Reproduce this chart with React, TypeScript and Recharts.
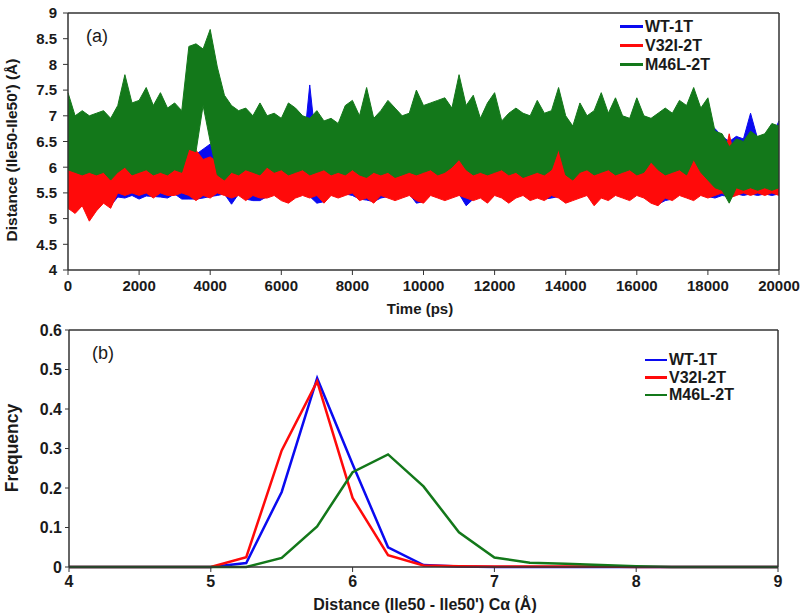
import React from 'react';
import { ComposedChart, LineChart, Area, Line, XAxis, YAxis, ReferenceLine } from 'recharts';

const FONT = '"Liberation Sans", Arial, Helvetica, sans-serif';
const INK = '#1a1a1a';
const AXIS = '#333333';
const BLUE = '#0a0af0';
const RED = '#ff0a0a';
const GREEN = '#13781a';

// ---- panel (a): Ile50-Ile50' distance vs time, read every 200 ps as low/high envelope
const timePs = Array.from({ length: 101 }, (_, i) => i * 200);

const wtLow = [
  5.25, 5.15, 5.3, 5.0, 5.2, 5.35, 5.25,
  5.42, 5.4, 5.45, 5.38, 5.44, 5.43, 5.42, 5.4, 5.48, 5.38,
  5.38, 5.38, 5.4, 5.43, 5.45, 5.48, 5.28, 5.48, 5.38, 5.35,
  5.35, 5.43, 5.48, 5.38, 5.33, 5.43, 5.48, 5.43, 5.3, 5.33,
  5.48, 5.43, 5.48, 5.45, 5.38, 5.36, 5.33, 5.4, 5.43, 5.38,
  5.43, 5.48, 5.3, 5.33, 5.48, 5.43, 5.38, 5.43, 5.48, 5.25,
  5.38, 5.43, 5.33, 5.48, 5.43, 5.33, 5.43, 5.48, 5.38, 5.43,
  5.38, 5.4, 5.43, 5.33, 5.38, 5.43, 5.48, 5.28, 5.43, 5.38,
  5.48, 5.43, 5.38, 5.48, 5.43, 5.33, 5.28, 5.35, 5.38, 5.48,
  5.43, 5.38, 5.48, 5.43, 5.4, 5.45, 5.43, 5.48, 5.45, 5.48,
  5.45, 5.48, 5.45, 5.48,
];
const wtHigh = [
  6.05, 6.05, 6.05, 6.05, 6.05, 6.05, 6.05, 6.05, 6.05, 6.05,
  6.05, 6.05, 6.05, 6.05, 6.05, 6.05, 6.05, 6.3, 6.25, 6.35,
  6.45, 6.05, 6.05, 6.05, 6.05, 6.05, 6.05, 6.05, 6.05, 6.05,
  6.05, 6.05, 6.05, 6.2, 7.6, 6.3, 6.05, 6.05, 6.05, 6.05,
  6.05, 6.05, 6.05, 6.05, 6.05, 6.05, 6.05, 6.05, 6.05, 6.05,
  6.05, 6.05, 6.05, 6.05, 6.05, 6.05, 6.05, 6.05, 6.05, 6.05,
  6.05, 6.05, 6.05, 6.05, 6.05, 6.05, 6.05, 6.05, 6.05, 6.05,
  6.05, 6.05, 6.05, 6.05, 6.05, 6.05, 6.05, 6.05, 6.05, 6.05,
  6.05, 6.05, 6.05, 6.05, 6.05, 6.05, 6.05, 6.05, 6.05, 6.05,
  6.2, 6.75, 6.6, 6.5, 6.6, 6.55, 7.05, 6.55, 6.45, 6.6,
  6.9,
];
const v32iLow = [
  5.2, 5.1, 5.25, 4.95, 5.15, 5.3, 5.2,
  5.5, 5.45, 5.5, 5.45, 5.5, 5.4, 5.5, 5.45, 5.45, 5.5,
  5.45, 5.35, 5.45, 5.4, 5.5, 5.45, 5.4, 5.45, 5.35, 5.45,
  5.4, 5.4, 5.45, 5.35, 5.3, 5.4, 5.45, 5.4, 5.45, 5.3,
  5.45, 5.4, 5.45, 5.5, 5.35, 5.4, 5.3, 5.45, 5.4, 5.35,
  5.4, 5.45, 5.35, 5.3, 5.45, 5.4, 5.35, 5.4, 5.45, 5.4,
  5.35, 5.4, 5.3, 5.45, 5.4, 5.3, 5.4, 5.45, 5.35, 5.4,
  5.35, 5.45, 5.4, 5.3, 5.35, 5.4, 5.45, 5.25, 5.4, 5.35,
  5.45, 5.4, 5.35, 5.45, 5.4, 5.3, 5.25, 5.4, 5.35, 5.45,
  5.4, 5.35, 5.45, 5.4, 5.45, 5.5, 5.4, 5.45, 5.5, 5.45,
  5.5, 5.45, 5.5, 5.45,
];
const v32iHigh = [
  6.1, 6.1, 6.1, 6.1, 6.1, 6.1, 6.1, 6.1, 6.1, 6.1,
  6.1, 6.1, 6.1, 6.1, 6.1, 6.1, 6.1, 6.38, 6.33, 6.15,
  6.2, 6.1, 6.1, 6.1, 6.1, 6.1, 6.1, 6.1, 6.1, 6.1,
  6.1, 6.1, 6.1, 6.1, 6.1, 6.1, 6.1, 6.1, 6.1, 6.1,
  6.1, 6.1, 6.1, 6.1, 6.1, 6.1, 6.1, 6.1, 6.1, 6.1,
  6.1, 6.1, 6.1, 6.1, 6.1, 6.2, 6.1, 6.1, 6.1, 6.1,
  6.1, 6.1, 6.1, 6.1, 6.1, 6.1, 6.1, 6.1, 6.1, 6.4,
  6.1, 6.1, 6.1, 6.1, 6.1, 6.1, 6.1, 6.1, 6.1, 6.1,
  6.1, 6.1, 6.15, 6.1, 6.1, 6.1, 6.1, 6.1, 6.2, 6.1,
  6.0, 6.0, 6.0, 6.65, 6.0, 6.0, 6.0, 6.0, 6.0, 6.0,
  6.0,
];
const m46lLow = [
  5.95, 5.9, 5.85, 5.9, 5.85, 5.9, 5.75, 5.9, 6.0, 5.85,
  5.9, 5.95, 5.85, 5.9, 5.85, 5.95, 5.9, 6.35, 6.3, 7.2,
  6.5, 5.85, 5.75, 5.9, 5.85, 5.95, 5.9, 5.85, 6.0, 5.9,
  5.95, 5.85, 5.9, 5.95, 5.85, 5.9, 5.95, 5.85, 5.9, 5.85,
  5.95, 5.85, 5.8, 5.9, 5.85, 5.9, 5.8, 5.85, 5.9, 5.85,
  5.9, 5.95, 5.85, 5.9, 6.0, 6.15, 5.95, 5.85, 5.9, 5.85,
  5.9, 5.95, 5.85, 5.9, 5.8, 5.85, 5.9, 5.85, 5.95, 6.35,
  5.85, 5.75, 5.9, 5.95, 5.85, 5.9, 5.95, 5.85, 5.9, 5.95,
  5.85, 5.9, 6.1, 5.95, 5.85, 5.9, 5.95, 5.85, 6.15, 5.9,
  5.75, 5.6, 5.55, 5.3, 5.6, 5.55, 5.6, 5.55, 5.6, 5.55,
  5.6,
];
const m46lHigh = [
  7.45, 7.0, 7.1, 7.0, 7.05, 7.1, 6.95, 7.2, 7.8, 7.25,
  7.3, 7.55, 7.2, 7.45, 7.15, 7.25, 7.1, 8.35, 8.4, 8.3,
  8.68, 7.95, 7.4, 7.2, 7.1, 7.15, 7.0, 7.25, 7.0, 7.05,
  6.95, 7.25, 7.15, 7.0, 6.95, 7.1, 6.9, 6.95, 6.85, 7.2,
  7.3, 7.0, 7.55, 6.95, 7.1, 7.3, 7.15, 7.0, 7.05, 7.5,
  7.2, 7.25, 7.3, 7.35, 7.15, 7.8, 7.2, 7.4, 6.95, 7.25,
  7.45, 6.9, 7.05, 7.15, 7.05, 7.0, 7.3, 7.05, 7.1, 7.55,
  7.0, 6.8, 7.25, 7.0, 7.1, 7.45, 7.05, 7.35, 7.0, 6.95,
  7.35, 7.0, 6.95, 7.05, 7.15, 7.05, 7.3, 7.2, 7.55, 7.15,
  7.35, 6.7, 6.65, 6.4, 6.55, 6.5, 6.7, 6.6, 6.65, 6.85,
  6.8,
];

const timeTicks = [0, 2000, 4000, 6000, 8000, 10000, 12000, 14000, 16000, 18000, 20000];
const distTicks = [4, 4.5, 5, 5.5, 6, 6.5, 7, 7.5, 8, 8.5, 9];

// ---- panel (b): distance histogram
const distBins = [4, 4.25, 4.5, 4.75, 5, 5.25, 5.5, 5.75, 6, 6.25, 6.5, 6.75, 7, 7.25, 7.5, 7.75, 8, 8.25, 8.5, 8.75, 9];
const wtFreq = [0, 0, 0, 0, 0, 0.01, 0.19, 0.478, 0.26, 0.05, 0.005, 0.001, 0, 0, 0, 0, 0, 0, 0, 0, 0];
const v32iFreq = [0, 0, 0, 0, 0, 0.025, 0.295, 0.47, 0.175, 0.03, 0.004, 0.002, 0.001, 0.001, 0.001, 0.001, 0, 0, 0, 0, 0];
const m46lFreq = [0, 0, 0, 0, 0, 0, 0.023, 0.103, 0.24, 0.285, 0.204, 0.088, 0.024, 0.011, 0.008, 0.005, 0.002, 0, 0, 0, 0];
const binTicks = [4, 5, 6, 7, 8, 9];
const freqTicks = [0, 0.1, 0.2, 0.3, 0.4, 0.5, 0.6];

const seriesNames = ['WT-1T', 'V32I-2T', 'M46L-2T'];
const seriesColors = [BLUE, RED, GREEN];

const traceRows = timePs.map((t, i) => ({
  t,
  wt: [wtLow[i], wtHigh[i]],
  v32i: [v32iLow[i], v32iHigh[i]],
  m46l: [m46lLow[i], m46lHigh[i]],
}));

const histRows = distBins.map((d, i) => ({ d, wt: wtFreq[i], v32i: v32iFreq[i], m46l: m46lFreq[i] }));

const tickText = (size: number) => ({ fill: INK, fontSize: size, fontWeight: 700, fontFamily: FONT });

function LegendBlock({ left, centers, lineW }: { left: number; centers: number[]; lineW: number }) {
  return (
    <>
      {seriesNames.map((name, i) => (
        <div
          key={name}
          style={{ position: 'absolute', left, top: centers[i] - 9, height: 18, display: 'flex', alignItems: 'center' }}
        >
          <div style={{ width: lineW, height: 2.5, background: seriesColors[i], marginRight: 2 }} />
          <span style={{ fontSize: 16, fontWeight: 700, color: INK, whiteSpace: 'nowrap' }}>{name}</span>
        </div>
      ))}
    </>
  );
}

const labelBold = (size: number): React.CSSProperties => ({
  position: 'absolute',
  fontSize: size,
  fontWeight: 700,
  color: INK,
  whiteSpace: 'nowrap',
  lineHeight: 1,
});

export default function App() {
  return (
    <div style={{ position: 'absolute', left: 0, top: 0, width: 800, height: 614, background: '#fff', fontFamily: FONT }}>
      <div style={{ position: 'absolute', left: 0, top: 0 }}>
        <ComposedChart width={800} height={300} data={traceRows} margin={{ top: 13, right: 21, bottom: 0, left: 0 }}>
          <XAxis
            dataKey="t"
            type="number"
            domain={[0, 20000]}
            ticks={timeTicks}
            interval={0}
            height={30}
            tickSize={5}
            tickMargin={5}
            axisLine={{ stroke: AXIS, strokeWidth: 1.5 }}
            tickLine={{ stroke: AXIS }}
            tick={tickText(15)}
          />
          <YAxis
            type="number"
            domain={[4, 9]}
            ticks={distTicks}
            interval={0}
            width={68}
            tickSize={5}
            tickMargin={6}
            axisLine={{ stroke: AXIS, strokeWidth: 1.5 }}
            tickLine={{ stroke: AXIS }}
            tick={tickText(15)}
          />
          <Area type="linear" dataKey="wt" stroke={BLUE} strokeWidth={1} fill={BLUE} fillOpacity={1} dot={false} activeDot={false} isAnimationActive={false} />
          <Area type="linear" dataKey="v32i" stroke={RED} strokeWidth={1} fill={RED} fillOpacity={1} dot={false} activeDot={false} isAnimationActive={false} />
          <Area type="linear" dataKey="m46l" stroke={GREEN} strokeWidth={1} fill={GREEN} fillOpacity={1} dot={false} activeDot={false} isAnimationActive={false} />
          <ReferenceLine y={9} stroke={AXIS} strokeWidth={1.5} />
          <ReferenceLine x={20000} stroke={AXIS} strokeWidth={1.5} />
        </ComposedChart>
      </div>

      <div style={{ position: 'absolute', left: 0, top: 310 }}>
        <LineChart width={800} height={290} data={histRows} margin={{ top: 20, right: 22, bottom: 3, left: 0 }}>
          <XAxis
            dataKey="d"
            type="number"
            domain={[4, 9]}
            ticks={binTicks}
            interval={0}
            height={30}
            tickSize={5}
            tickMargin={4}
            axisLine={{ stroke: AXIS, strokeWidth: 1.5 }}
            tickLine={{ stroke: AXIS }}
            tick={tickText(16)}
          />
          <YAxis
            type="number"
            domain={[0, 0.6]}
            ticks={freqTicks}
            interval={0}
            width={69}
            tickSize={4}
            tickMargin={3}
            axisLine={{ stroke: AXIS, strokeWidth: 1.5 }}
            tickLine={{ stroke: AXIS }}
            tick={tickText(16)}
          />
          <Line type="linear" dataKey="wt" stroke={BLUE} strokeWidth={2.5} dot={false} activeDot={false} isAnimationActive={false} />
          <Line type="linear" dataKey="v32i" stroke={RED} strokeWidth={2.5} dot={false} activeDot={false} isAnimationActive={false} />
          <Line type="linear" dataKey="m46l" stroke={GREEN} strokeWidth={2.5} dot={false} activeDot={false} isAnimationActive={false} />
          <ReferenceLine y={0.6} stroke={AXIS} strokeWidth={1.5} />
          <ReferenceLine x={9} stroke={AXIS} strokeWidth={1.5} />
        </LineChart>
      </div>

      {/* panel tags */}
      <div style={{ position: 'absolute', left: 86, top: 27, fontSize: 18, lineHeight: 1, color: INK }}>(a)</div>
      <div style={{ position: 'absolute', left: 92, top: 344, fontSize: 18, lineHeight: 1, color: INK }}>(b)</div>

      {/* axis titles */}
      <div style={{ ...labelBold(15.5), left: 12, top: 150, transform: 'translate(-50%, -50%) rotate(-90deg)' }}>
        Distance (Ile50-Ile50') (Å)
      </div>
      <div style={{ ...labelBold(15), left: 420, top: 308, transform: 'translate(-50%, -50%)' }}>Time (ps)</div>
      <div style={{ ...labelBold(17.5), left: 12.5, top: 448, transform: 'translate(-50%, -50%) rotate(-90deg)' }}>
        Frequency
      </div>
      <div style={{ ...labelBold(16), left: 425, top: 605, transform: 'translate(-50%, -50%)' }}>
        Distance (Ile50 - Ile50') Cα (Å)
      </div>

      <LegendBlock left={620} centers={[26.5, 45.5, 64.5]} lineW={23} />
      <LegendBlock left={645} centers={[360, 377.5, 395]} lineW={22} />
    </div>
  );
}
